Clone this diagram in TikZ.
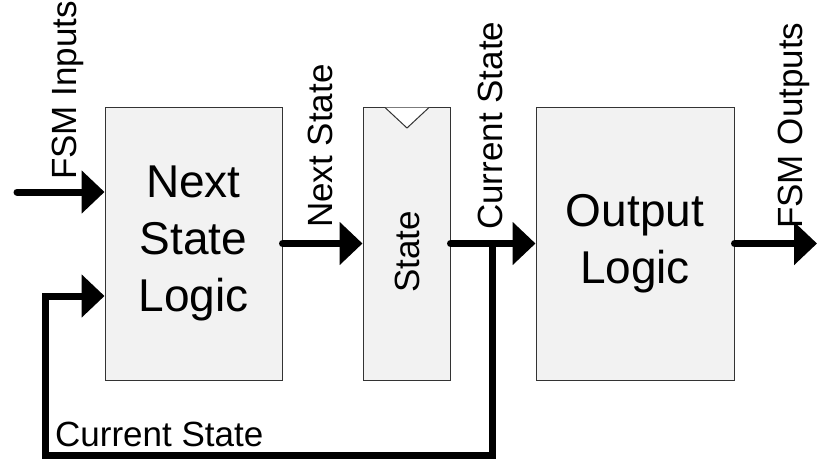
\documentclass[tikz,border=0pt]{standalone}
\usepackage{fontspec}
\setmainfont{Liberation Sans}
\usetikzlibrary{arrows.meta}
\begin{document}
\begin{tikzpicture}[x=1pt,y=-1pt,
  blk/.style={draw=black!80, line width=1pt, fill=black!5, inner sep=0pt, align=center,
    minimum height=273pt, font=\fontsize{46}{57}\selectfont},
  sig/.style={line width=7pt, line cap=round, line join=miter,
    -{Triangle[length=23pt,width=42pt]}},
  lbl/.style={font=\fontsize{35}{40}\selectfont, inner sep=0pt, rotate=90, anchor=base west},
  hlbl/.style={font=\fontsize{35}{40}\selectfont, inner sep=0pt, anchor=base west}]
\useasboundingbox (0,0) rectangle (817,459);
% blocks
\node[blk, minimum width=177pt] (nsl) at (193.5,243.5) {Next\\State\\Logic};
\node[blk, minimum width=87pt] (st) at (406.5,243.5) {};
\node[font=\fontsize{35}{40}\selectfont, inner sep=0pt, rotate=90] (stl) at (407,252) {State};
\node[blk, minimum width=198pt] (ol) at (635,243.5) {Output\\Logic};
% clock mark
\draw[black!80, line width=1pt, fill=white] (385,107.5) -- (407,128) -- (429,107.5);
% coordinates
\coordinate (in) at (17,192);
\coordinate (out) at (817,243.5);
\coordinate (j) at (492,243.5);
\coordinate (c1) at (492,455);
\coordinate (c2) at (45,455);
\coordinate (c3) at (45,296);
% signals
\draw[sig] (in) -- (in -| nsl.west);
\draw[sig] (nsl.east) -- (st.west);
\draw[sig] (st.east) -- (ol.west);
\draw[sig] (ol.east) -- (out);
\draw[sig, line cap=butt] (j) -- (c1) -- (c2) -- (c3) -- (c3 -| nsl.west);
% labels
\node[lbl] (lin) at (76,180) {FSM Inputs};
\node[lbl] (lns) at (332,228) {Next State};
\node[lbl] (lcs) at (502,230) {Current State};
\node[lbl] (lout) at (802,229) {FSM Outputs};
\node[hlbl] (lfb) at (55,446) {Current State};
\end{tikzpicture}
\end{document}
